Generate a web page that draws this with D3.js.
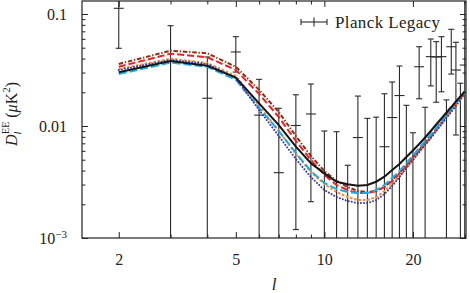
<!DOCTYPE html>
<html>
<head>
<meta charset="utf-8">
<script src="https://d3js.org/d3.v7.min.js"></script>
<style>
  body { margin: 0; background: #fff; }
  svg text { font-family: "Liberation Serif", "DejaVu Serif", serif; fill: #222; }
</style>
</head>
<body>
<script>
// multipoles l = 2 .. 30
var multipoles = [2, 3, 4, 5, 6, 7, 8, 9, 10, 11, 12, 13, 14, 15, 16, 17, 18, 19, 20,
                  21, 22, 23, 24, 25, 26, 27, 28, 29, 30];

// model spectra D_l^EE in muK^2
var modelBlack  = [0.0302, 0.0381, 0.0345, 0.0270, 0.0159, 0.0102, 0.00653, 0.00465, 0.00378, 0.00318,
                   0.00302, 0.00293, 0.00297, 0.00318, 0.00353, 0.00405, 0.00458, 0.00529, 0.00604, 0.00691,
                   0.00789, 0.00902, 0.01031, 0.01167, 0.01320, 0.01477, 0.01655, 0.01834, 0.02032];
var modelRed    = [0.0338, 0.0442, 0.0411, 0.0316, 0.0193, 0.0120, 0.00735, 0.00497, 0.00365, 0.00297,
                   0.00268, 0.00252, 0.00252, 0.00263, 0.00285, 0.00323, 0.00373, 0.00439, 0.00518, 0.00598,
                   0.00691, 0.00797, 0.00921, 0.01063, 0.01228, 0.01390, 0.01572, 0.01778, 0.01991];
var modelBrown  = [0.0358, 0.0470, 0.0446, 0.0338, 0.0210, 0.0133, 0.00814, 0.00540, 0.00396, 0.00323,
                   0.00285, 0.00263, 0.00257, 0.00263, 0.00285, 0.00330, 0.00381, 0.00449, 0.00529, 0.00611,
                   0.00705, 0.00814, 0.00940, 0.01086, 0.01241, 0.01418, 0.01604, 0.01797, 0.02012];
var modelOrange = [0.0323, 0.0399, 0.0365, 0.0280, 0.0151, 0.00902, 0.00562, 0.00388, 0.00303, 0.00257,
                   0.00232, 0.00218, 0.00218, 0.00232, 0.00263, 0.00303, 0.00358, 0.00422, 0.00497, 0.00586,
                   0.00677, 0.00781, 0.00902, 0.01042, 0.01191, 0.01361, 0.01540, 0.01742, 0.01970];
var modelCyan   = [0.0291, 0.0368, 0.0338, 0.0258, 0.0145, 0.00902, 0.00574, 0.00396, 0.00310, 0.00274,
                   0.00257, 0.00252, 0.00252, 0.00268, 0.00297, 0.00343, 0.00396, 0.00467, 0.00545, 0.00636,
                   0.00735, 0.00839, 0.00960, 0.01097, 0.01254, 0.01418, 0.01604, 0.01797, 0.02012];
var modelBlue   = [0.0316, 0.0389, 0.0358, 0.0268, 0.0139, 0.00814, 0.00507, 0.00350, 0.00268, 0.00232,
                   0.00214, 0.00205, 0.00205, 0.00218, 0.00247, 0.00291, 0.00350, 0.00422, 0.00497, 0.00586,
                   0.00677, 0.00781, 0.00902, 0.01031, 0.01179, 0.01334, 0.01509, 0.01707, 0.01931];

// Planck Legacy points: central value, lower and upper end of the error bar
// (values below 1e-3 fall off the bottom of the plot)
var planckMid  = [0.1124, 0.0004, 0.0177, 0.0458, 0.0125, 0.00383, 0.0101, 0.0128, 0.0004, 0.0004,
                  0.0004, 0.00789, 0.0004, 0.0004, 0.00653, 0.0119, 0.0187, 0.0004, 0.0004, 0.0338,
                  0.0004, 0.0416, 0.0413, 0.0416, 0.0004, 0.0510, 0.0316, 0.0004, 0.0350];
var planckLow  = [0.0494, 0.0001, 0.0002, 0.0303, 0.0002, 0.0002, 0.00119, 0.00211, 0.0001, 0.0001,
                  0.0001, 0.0002, 0.0001, 0.0001, 0.0002, 0.0002, 0.0002, 0.0001, 0.0001, 0.0175,
                  0.0001, 0.0228, 0.0163, 0.0202, 0.0001, 0.0291, 0.00831, 0.0001, 0.0002];
var planckHigh = [0.30, 0.0786, 0.0413, 0.0627, 0.0261, 0.0144, 0.0190, 0.0237, 0.00902, 0.00889,
                  0.00446, 0.0185, 0.0117, 0.0120, 0.0194, 0.0247, 0.0343, 0.0153, 0.00871, 0.0510,
                  0.0147, 0.0598, 0.0566, 0.0627, 0.0171, 0.0730, 0.0559, 0.0241, 0.30];

var xMajor = [2, 5, 10, 20];
var xMinor = [3, 4, 6, 7, 8, 9, 30];
var yMajor = [0.001, 0.01, 0.1];
var yMinor = [0.002, 0.003, 0.004, 0.005, 0.006, 0.007, 0.008, 0.009,
              0.02, 0.03, 0.04, 0.05, 0.06, 0.07, 0.08, 0.09];

var W = 470, H = 293;
var pLeft = 82, pRight = 466, pTop = 1, pBottom = 238;

var svg = d3.select("body").append("svg")
    .attr("width", W)
    .attr("height", H);

var x = d3.scaleLog().domain([1.5, 30.3]).range([pLeft, pRight]);
var y = d3.scaleLog().domain([0.001, 0.1306]).range([pBottom, pTop]);

svg.append("clipPath").attr("id", "plotclip")
  .append("rect")
    .attr("x", pLeft).attr("y", pTop)
    .attr("width", pRight - pLeft).attr("height", pBottom - pTop);

var plot = svg.append("g").attr("clip-path", "url(#plotclip)");

// error bars
var bars = multipoles.map(function (l, i) {
  return {l: l, mid: planckMid[i], lo: planckLow[i], hi: planckHigh[i]};
});
var eb = plot.append("g")
    .attr("stroke", "#2b2b2b")
    .attr("stroke-width", 1.1)
    .selectAll("g").data(bars).enter().append("g");
eb.append("line")
    .attr("x1", function (d) { return x(d.l); })
    .attr("x2", function (d) { return x(d.l); })
    .attr("y1", function (d) { return y(d.lo); })
    .attr("y2", function (d) { return y(d.hi); });
eb.append("line")   // upper cap
    .attr("x1", function (d) { return x(d.l) - 3; })
    .attr("x2", function (d) { return x(d.l) + 3; })
    .attr("y1", function (d) { return y(d.hi); })
    .attr("y2", function (d) { return y(d.hi); });
eb.append("line")   // lower cap
    .attr("x1", function (d) { return x(d.l) - 3; })
    .attr("x2", function (d) { return x(d.l) + 3; })
    .attr("y1", function (d) { return y(d.lo); })
    .attr("y2", function (d) { return y(d.lo); });
eb.append("line")   // central mark
    .attr("x1", function (d) { return x(d.l) - 5; })
    .attr("x2", function (d) { return x(d.l) + 5; })
    .attr("y1", function (d) { return y(d.mid); })
    .attr("y2", function (d) { return y(d.mid); });

// model curves, black on top
var models = [
  {values: modelBrown,  color: "#8e2f0c", dash: "4.5,1.8,1.3,1.8"},
  {values: modelRed,    color: "#e8232b", dash: "7,3"},
  {values: modelOrange, color: "#f5893c", dash: "2.6,1.8"},
  {values: modelCyan,   color: "#1aade4", dash: "8,3"},
  {values: modelBlue,   color: "#3b3ba8", dash: "0.1,3"},
  {values: modelBlack,  color: "#151515", dash: null}
];
var line = d3.line()
    .x(function (d) { return x(d[0]); })
    .y(function (d) { return y(d[1]); });
models.forEach(function (m) {
  plot.append("path")
      .datum(multipoles.map(function (l, i) { return [l, m.values[i]]; }))
      .attr("d", line)
      .attr("fill", "none")
      .attr("stroke", m.color)
      .attr("stroke-width", 2)
      .attr("stroke-linecap", m.dash === "0.1,3" ? "round" : "butt")
      .attr("stroke-dasharray", m.dash);
});

// axes: ticks point inwards on all four sides
function styleAxis(g) {
  g.select(".domain").remove();
  g.selectAll(".tick line").attr("stroke", "#222").attr("stroke-width", 1);
  g.selectAll("text").attr("font-size", 16).attr("fill", "#222")
      .attr("font-family", '"Liberation Serif", "DejaVu Serif", serif');
}

svg.append("g").attr("transform", "translate(0," + pBottom + ")")
    .call(d3.axisBottom(x).tickValues(xMajor).tickFormat(d3.format("d"))
      .tickSize(-6).tickPadding(15.5))
    .call(styleAxis);
svg.append("g").attr("transform", "translate(0," + pBottom + ")")
    .call(d3.axisBottom(x).tickValues(xMinor).tickFormat("").tickSize(-3.5))
    .call(styleAxis);
svg.append("g").attr("transform", "translate(0," + pTop + ")")
    .call(d3.axisTop(x).tickValues(xMajor).tickFormat("").tickSize(-6))
    .call(styleAxis);
svg.append("g").attr("transform", "translate(0," + pTop + ")")
    .call(d3.axisTop(x).tickValues(xMinor).tickFormat("").tickSize(-3.5))
    .call(styleAxis);

var yAxis = svg.append("g").attr("transform", "translate(" + pLeft + ",0)")
    .call(d3.axisLeft(y).tickValues(yMajor)
      .tickFormat(function (d) { return d === 0.001 ? "" : String(d); })
      .tickSize(-6).tickPadding(15))
    .call(styleAxis);
// 10^-3 label with a real superscript
yAxis.selectAll(".tick text").filter(function (d) { return d === 0.001; })
    .each(function () {
      var t = d3.select(this);
      t.append("tspan").text("10");
      t.append("tspan").attr("dy", "-6").attr("font-size", 11).text("\u22123");
    });
svg.append("g").attr("transform", "translate(" + pLeft + ",0)")
    .call(d3.axisLeft(y).tickValues(yMinor).tickFormat("").tickSize(-3.5))
    .call(styleAxis);
svg.append("g").attr("transform", "translate(" + pRight + ",0)")
    .call(d3.axisRight(y).tickValues(yMajor).tickFormat("").tickSize(-6))
    .call(styleAxis);
svg.append("g").attr("transform", "translate(" + pRight + ",0)")
    .call(d3.axisRight(y).tickValues(yMinor).tickFormat("").tickSize(-3.5))
    .call(styleAxis);

// frame
svg.append("rect")
    .attr("x", pLeft).attr("y", pTop)
    .attr("width", pRight - pLeft).attr("height", pBottom - pTop)
    .attr("fill", "none").attr("stroke", "#222").attr("stroke-width", 1.2);

// axis titles
svg.append("text")
    .attr("x", (pLeft + pRight) / 2).attr("y", 290)
    .attr("text-anchor", "middle")
    .attr("font-size", 17).attr("font-style", "italic")
    .text("l");

var ylab = svg.append("text")
    .attr("transform", "translate(17,114) rotate(-90)")
    .attr("text-anchor", "middle")
    .attr("font-size", 16);
ylab.append("tspan").attr("font-style", "italic").text("D");
ylab.append("tspan").attr("font-style", "italic").attr("font-size", 11).attr("dy", 4).text("l");
ylab.append("tspan").attr("font-size", 10).attr("dx", -2.5).attr("dy", -12).text("EE");
ylab.append("tspan").attr("dy", 8).text("\u00a0(");
ylab.append("tspan").attr("font-style", "italic").text("\u03bc");
ylab.append("tspan").text("K");
ylab.append("tspan").attr("font-size", 11).attr("dy", -7).text("2");
ylab.append("tspan").attr("dy", 7).text(")");

// legend
var leg = svg.append("g").attr("stroke", "#2b2b2b").attr("stroke-width", 1.1);
leg.append("line").attr("x1", 301).attr("x2", 327).attr("y1", 22).attr("y2", 22);
leg.append("line").attr("x1", 301).attr("x2", 301).attr("y1", 19).attr("y2", 25);
leg.append("line").attr("x1", 327).attr("x2", 327).attr("y1", 19).attr("y2", 25);
leg.append("line").attr("x1", 314).attr("x2", 314).attr("y1", 17.5).attr("y2", 26.5);
svg.append("text")
    .attr("x", 335).attr("y", 28)
    .attr("font-size", 17)
    .attr("textLength", 105)
    .attr("lengthAdjust", "spacing")
    .text("Planck Legacy");
</script>
</body>
</html>
